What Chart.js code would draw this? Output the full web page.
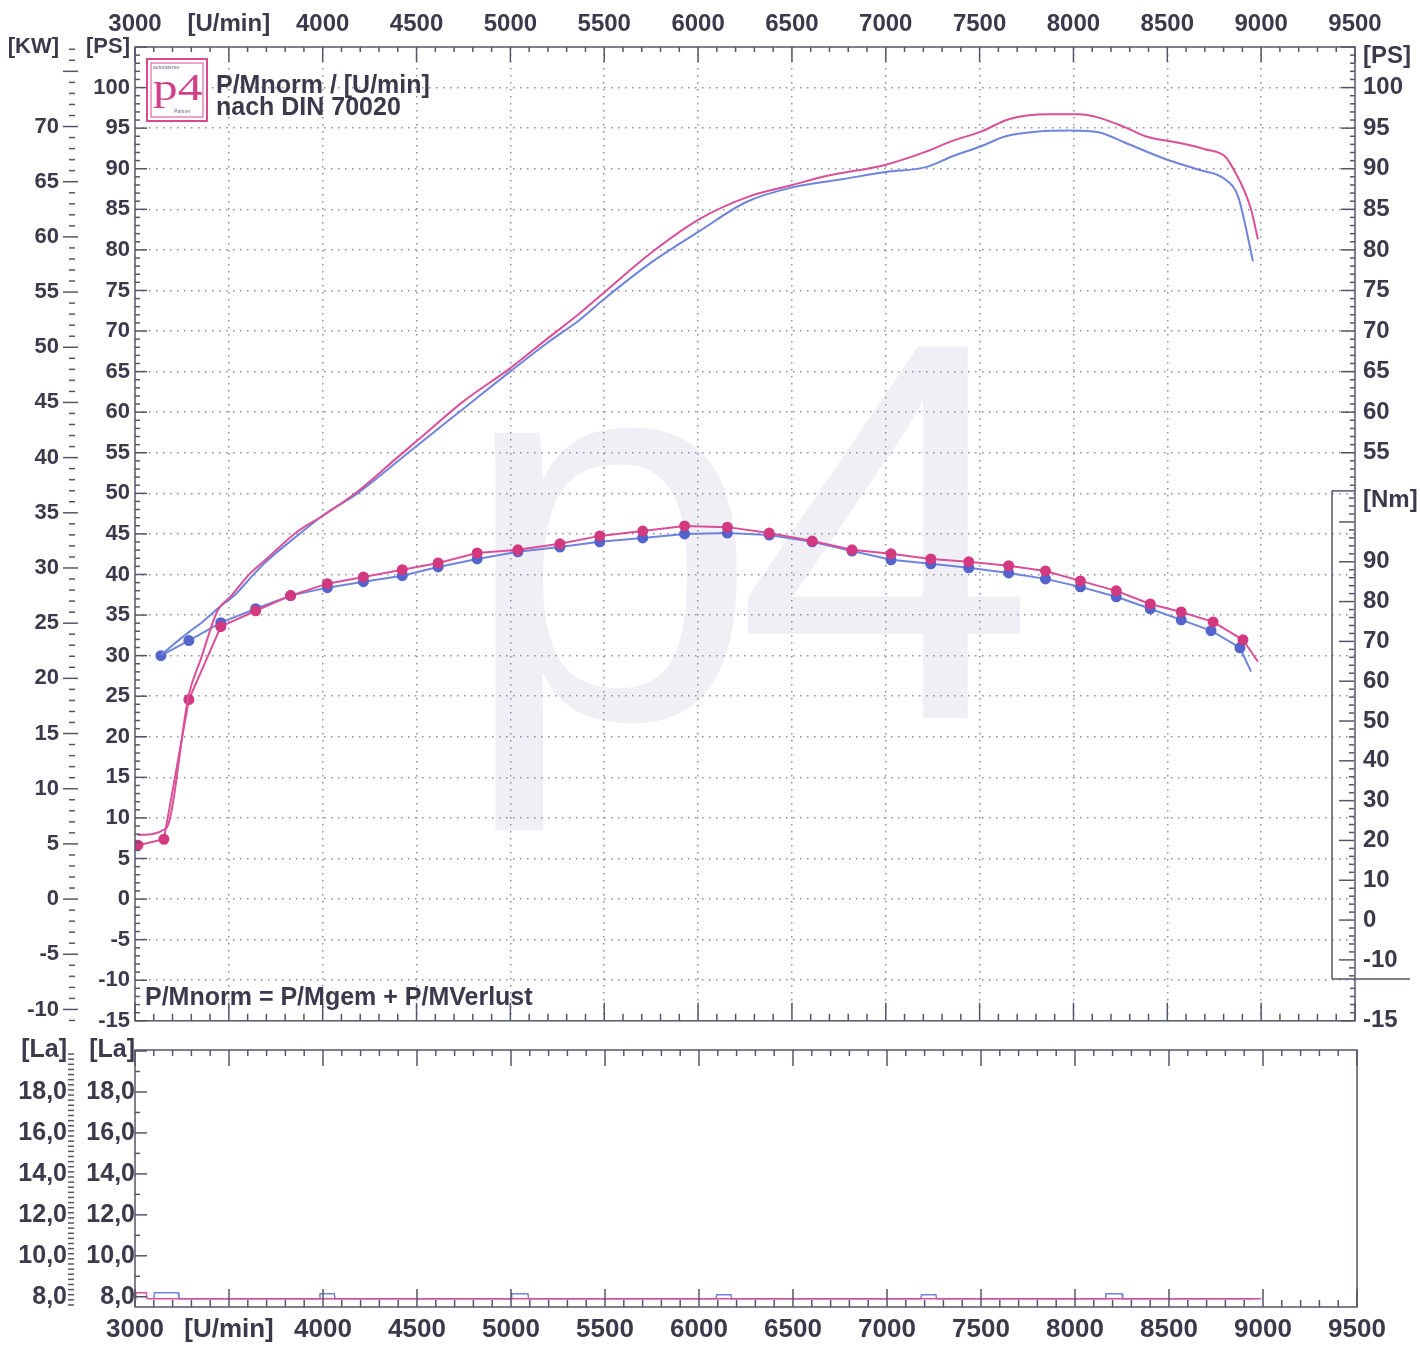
<!DOCTYPE html>
<html><head><meta charset="utf-8">
<script src="https://cdn.jsdelivr.net/npm/chart.js@4.4.1/dist/chart.umd.min.js"></script>
<style>
html,body{margin:0;padding:0;background:#fff;}
#wrap{position:relative;width:1420px;height:1347px;overflow:hidden;background:#fff;}
canvas{position:absolute;left:0;}
#main{top:0;}
#lam{top:1030px;}
</style></head><body>
<div id="wrap">
<canvas id="main" width="1420" height="1045"></canvas>
<canvas id="lam" width="1420" height="317"></canvas>
</div>
<script>
// ---------- tick labels ----------
const rpmTicks = [3000,3500,4000,4500,5000,5500,6000,6500,7000,7500,8000,8500,9000,9500];
const rpmTickLabels = ['3000','[U/min]','4000','4500','5000','5500','6000','6500','7000','7500','8000','8500','9000','9500'];
const psTicks = [-15,-10,-5,0,5,10,15,20,25,30,35,40,45,50,55,60,65,70,75,80,85,90,95,100];
const kwTicks = [-10,-5,0,5,10,15,20,25,30,35,40,45,50,55,60,65,70];
const psRightTicks = [55,60,65,70,75,80,85,90,95,100];
const nmTicks = [-10,0,10,20,30,40,50,60,70,80,90];
const lambdaTicks = [8,10,12,14,16,18];
const lambdaTickLabels = ['8,0','10,0','12,0','14,0','16,0','18,0'];

// ---------- power [PS] ----------
const powerRpmPink = [3016,3165,3287,3351,3441,3510,3616,3685,3866,4004,4185,4397,4504,4748,4998,5194,5370,5492,5742,6007,6273,6502,6682,7001,7214,7352,7511,7655,7867,8027,8133,8276,8383,8558,8701,8808,8861,8914,8946,8983];
const powerPink    = [7.9,8.7,25.2,29.6,35.6,37.3,40.2,41.6,45.3,47.3,50.2,54.4,56.5,61.3,65.4,69.0,72.2,74.6,79.5,83.8,86.6,88.0,89.1,90.5,92.1,93.4,94.6,96.1,96.7,96.7,96.3,95.1,94.0,93.2,92.4,91.5,89.6,87.1,85.0,81.3];
const powerRpmBlue = [3138,3287,3351,3441,3537,3616,3685,3866,4004,4185,4397,4504,4748,4998,5194,5370,5492,5742,6007,6257,6502,6767,7001,7214,7352,7511,7639,7814,7989,8133,8276,8489,8664,8808,8877,8914,8956];
const powerBlue    = [30.1,32.9,34.0,35.8,37.6,39.6,41.3,44.8,47.3,50.0,53.9,55.9,60.4,65.0,68.5,71.4,73.8,78.3,82.3,85.9,87.7,88.7,89.6,90.2,91.5,92.8,94.0,94.6,94.7,94.5,93.2,91.2,89.9,88.7,86.6,83.2,78.6];

// ---------- torque [Nm] ----------
const torqueRpmPink = [3016,3154,3287,3457,3643,3829,4025,4217,4424,4615,4823,5040,5264,5476,5705,5928,6156,6379,6608,6820,7028,7240,7442,7655,7851,8037,8228,8409,8574,8744,8903,8983];
const torquePink    = [18.8,20.3,55.4,73.7,77.7,81.5,84.5,86.2,88.0,89.7,92.2,93.0,94.5,96.5,97.7,99.0,98.7,97.2,95.2,93.0,92.0,90.7,90.0,89.0,87.7,85.2,82.7,79.4,77.4,74.9,70.4,64.9];
const torqueRpmBlue = [3138,3287,3457,3643,3829,4025,4217,4424,4615,4823,5040,5264,5476,5705,5928,6156,6379,6608,6820,7028,7240,7442,7655,7851,8037,8228,8409,8574,8733,8887,8946];
const torqueBlue    = [66.4,70.2,74.7,78.2,81.5,83.5,85.0,86.5,88.7,90.7,92.5,93.7,95.0,96.0,97.0,97.2,96.7,95.0,92.7,90.5,89.5,88.5,87.2,85.7,83.7,81.2,78.2,75.4,72.7,68.4,62.4];

// ---------- lambda [La] ----------
const lambdaRpmPink = [3000,3004,3060,3064,8990];
const lambdaPink    = [7.9,8.2,8.2,7.9,7.9];
const lambdaRpmBlue = [3100,3104,3230,3234,3980,3984,4060,4064,5000,5004,5090,5094,6090,6094,6170,6174,7180,7184,7260,7264,8160,8164,8250,8254,8950];
const lambdaBlue    = [7.9,8.2,8.2,7.9,7.9,8.15,8.15,7.9,7.9,8.15,8.15,7.9,7.9,8.1,8.1,7.9,7.9,8.1,8.1,7.9,7.9,8.15,8.15,7.9,7.9];

// ---------- scale ranges ----------
const PS_MIN = -15, PS_MAX = 105, KW_PER_PS = 1/1.36;
const NM_MIN = -25.3, NM_MAX = 219.3;
const LA_MIN = 7.5, LA_MAX = 20.05;

const INK = '#3a3a4c', FRAME = '#55556a', GRID = '#8c8ca2';
const PINK = '#da4f98', PINK_PT = '#d2397f', BLUE = '#6f84dc', BLUE_PT = '#5365cc';
const FONT = "'Liberation Sans', Arial, Helvetica, sans-serif";
Chart.defaults.font.family = FONT;
Chart.defaults.color = INK;

const pts = (xs, ys) => xs.map((x, i) => ({x, y: ys[i]}));
const psToNm = p => NM_MIN + (p - PS_MIN) / (PS_MAX - PS_MIN) * (NM_MAX - NM_MIN);
const rightTicks = [
  {value: psToNm(103.8), label: '[PS]'},
  ...psRightTicks.map(p => ({value: psToNm(p), label: String(p)})),
  {value: 105.5, label: '[Nm]'},
  ...nmTicks.map(n => ({value: n, label: String(n)})),
  {value: psToNm(-15), label: '-15'}
];
const psAll = [...psTicks.map(v => ({value: v, label: String(v)})), {value: PS_MAX, label: '[PS]'}];
const kwAll = [...kwTicks.map(v => ({value: v, label: String(v)})), {value: PS_MAX * KW_PER_PS, label: '[KW]'}];
const laAll = [...lambdaTicks.map((v, i) => ({value: v, label: lambdaTickLabels[i]})), {value: LA_MAX, label: '[La]'}];
const xAll = rpmTicks.map((v, i) => ({value: v, label: rpmTickLabels[i]}));

function setTicks(list) {
  return {
    afterBuildTicks: s => { s.ticks = list.map(t => ({value: t.value})); },
    cb: (v, i) => list[i] ? list[i].label : ''
  };
}
function hline(ctx, x1, x2, y) { ctx.beginPath(); ctx.moveTo(x1, y); ctx.lineTo(x2, y); ctx.stroke(); }
function vline(ctx, x, y1, y2) { ctx.beginPath(); ctx.moveTo(x, y1); ctx.lineTo(x, y2); ctx.stroke(); }

const T_X = setTicks(xAll), T_PS = setTicks(psAll), T_KW = setTicks(kwAll), T_R = setTicks(rightTicks), T_LA = setTicks(laAll);

const mainDecor = {
  id: 'mainDecor',
  beforeDraw(chart) {
    const {ctx, chartArea: a} = chart;
    const sx = chart.scales.x, ps = chart.scales.yPS;
    ctx.save();
    ctx.beginPath(); ctx.rect(a.left, a.top, a.right - a.left, a.bottom - a.top); ctx.clip();
    ctx.fillStyle = 'rgba(190,190,212,0.24)';
    ctx.font = `540px ${FONT}`;
    ctx.textBaseline = 'alphabetic';
    const base = ps.getPixelForValue(22.3);
    ctx.fillText('p', sx.getPixelForValue(4727), base);
    ctx.fillText('4', sx.getPixelForValue(6199), base);
    ctx.restore();
  },
  afterDraw(chart) {
    const {ctx, chartArea: a} = chart;
    const sx = chart.scales.x, ps = chart.scales.yPS, kw = chart.scales.yKW, nm = chart.scales.yNm;
    ctx.save();
    ctx.strokeStyle = FRAME; ctx.lineWidth = 1.5;
    ctx.strokeRect(a.left, a.top, a.right - a.left, a.bottom - a.top);
    for (let v = 3000; v <= 9500; v += 100) {
      const px = sx.getPixelForValue(v), major = v % 500 === 0;
      vline(ctx, px, a.top, a.top + (major ? 15 : 5));
      vline(ctx, px, a.bottom, a.bottom - (major ? 18 : 7));
    }
    for (let v = -15; v <= 105; v++) {
      hline(ctx, a.left, a.left + (v % 5 === 0 ? 12 : 5), ps.getPixelForValue(v));
    }
    for (let v = -11; v <= 77; v++) {
      const y = kw.getPixelForValue(v);
      if (v % 5 === 0) hline(ctx, kw.right - 7, kw.right + 8, y); else hline(ctx, kw.right - 1, kw.right + 5, y);
    }
    const bTop = nm.getPixelForValue(107.8), bBot = nm.getPixelForValue(-14.8), bLeft = a.right - 23;
    hline(ctx, bLeft, a.right, bTop);
    vline(ctx, bLeft, bTop, bBot);
    hline(ctx, bLeft, a.right + 55, bBot);
    for (let v = -14; v <= 106; v += 2) {
      const y = nm.getPixelForValue(v);
      hline(ctx, a.right - (v % 10 === 0 ? 16 : 6), a.right - 1, y);
    }
    for (let v = -15; v <= 105; v++) {
      const y = ps.getPixelForValue(v);
      if (y < bTop - 2 || y > bBot + 3) hline(ctx, a.right - (v % 5 === 0 ? 14 : 5), a.right, y);
    }
    const lx = a.left + 12, ly = a.top + 12;
    ctx.fillStyle = '#fff'; ctx.fillRect(lx, ly, 60, 62);
    ctx.strokeStyle = '#d64a90'; ctx.lineWidth = 2; ctx.strokeRect(lx, ly, 60, 62);
    ctx.lineWidth = 1; ctx.strokeRect(lx + 4, ly + 4, 52, 54);
    ctx.fillStyle = '#d23f88';
    ctx.save(); ctx.translate(lx + 6, ly + 41); ctx.scale(1.3, 1);
    ctx.font = `38px 'Liberation Serif', 'DejaVu Serif', serif`;
    ctx.textBaseline = 'alphabetic'; ctx.fillText('p4', 0, 0);
    ctx.restore();
    ctx.fillStyle = '#6a6a80'; ctx.font = `5px ${FONT}`;
    ctx.fillText('autorisierter', lx + 6, ly + 10);
    ctx.fillText('Partner', lx + 27, ly + 54);
    ctx.fillStyle = INK; ctx.font = `bold 25px ${FONT}`; ctx.textBaseline = 'alphabetic';
    ctx.fillText('P/Mnorm / [U/min]', a.left + 81, a.top + 46);
    ctx.fillText('nach DIN 70020', a.left + 81, a.top + 68);
    ctx.fillText('P/Mnorm = P/Mgem + P/MVerlust', a.left + 10, a.bottom - 16);
    ctx.restore();
  }
};

const lamDecor = {
  id: 'lamDecor',
  afterDraw(chart) {
    const {ctx, chartArea: a} = chart;
    const sx = chart.scales.x, la = chart.scales.yLa, la2 = chart.scales.yLa2;
    ctx.save();
    ctx.strokeStyle = FRAME; ctx.lineWidth = 1.5;
    ctx.strokeRect(a.left, a.top, a.right - a.left, a.bottom - a.top);
    for (let v = 3000; v <= 9500; v += 100) {
      const px = sx.getPixelForValue(v), major = v % 500 === 0;
      vline(ctx, px, a.top, a.top + (major ? 16 : 6));
      vline(ctx, px, a.bottom, a.bottom - (major ? 18 : 7));
    }
    for (let v = 8; v <= 20; v += 1) {
      const y = la.getPixelForValue(v);
      hline(ctx, a.left, a.left + (v % 2 === 0 ? 12 : 5), y);
    }
    for (let v = 7.6; v <= 20; v += 0.25) {
      const y = la2.getPixelForValue(v);
      const major = Math.abs(v - Math.round(v)) < 0.01 && Math.round(v) % 2 === 0;
      if (major) hline(ctx, la2.right - 7, la2.right + 5, y); else hline(ctx, la2.right - 2, la2.right + 4, y);
    }
    ctx.restore();
  }
};

const yFont = {size: 22, weight: 'bold'};

new Chart(document.getElementById('main'), {
  type: 'line',
  data: {
    datasets: [
      {label: 'P norm', data: pts(powerRpmPink, powerPink), yAxisID: 'yPS', borderColor: PINK, borderWidth: 2, pointRadius: 0, cubicInterpolationMode: 'monotone'},
      {label: 'P gem', data: pts(powerRpmBlue, powerBlue), yAxisID: 'yPS', borderColor: BLUE, borderWidth: 2, pointRadius: 0, cubicInterpolationMode: 'monotone'},
      {label: 'M norm', data: pts(torqueRpmPink, torquePink), yAxisID: 'yNm', borderColor: PINK, borderWidth: 2,
        pointRadius: c => c.dataIndex === torquePink.length - 1 ? 0 : 4.5, pointBackgroundColor: PINK_PT, pointBorderColor: PINK_PT, tension: 0},
      {label: 'M gem', data: pts(torqueRpmBlue, torqueBlue), yAxisID: 'yNm', borderColor: BLUE, borderWidth: 2,
        pointRadius: c => c.dataIndex === torqueBlue.length - 1 ? 0 : 4.5, pointBackgroundColor: BLUE_PT, pointBorderColor: BLUE_PT, tension: 0}
    ]
  },
  options: {
    responsive: false, animation: false, devicePixelRatio: 1,
    layout: {padding: {left: 0, right: 0, top: 0, bottom: 22}},
    plugins: {legend: {display: false}, tooltip: {enabled: false}},
    scales: {
      x: {type: 'linear', position: 'top', min: 3000, max: 9500,
        afterBuildTicks: T_X.afterBuildTicks, afterFit: s => { s.height = 47; },
        ticks: {callback: T_X.cb, autoSkip: false, maxRotation: 0, padding: 8, font: {size: 24, weight: 'bold'}},
        grid: {drawTicks: false, lineWidth: 1.5, color: c => (c.tick && (c.tick.value === 3000 || c.tick.value === 9500)) ? 'rgba(0,0,0,0)' : GRID},
        border: {display: false, dash: [1.5, 5.5]}},
      yKW: {type: 'linear', position: 'left', weight: 2, min: PS_MIN * KW_PER_PS, max: PS_MAX * KW_PER_PS,
        afterBuildTicks: T_KW.afterBuildTicks, afterFit: s => { s.width = 70; },
        ticks: {callback: T_KW.cb, autoSkip: false, padding: 11, font: yFont},
        grid: {display: false, drawTicks: false}, border: {display: false}},
      yPS: {type: 'linear', position: 'left', weight: 1, min: PS_MIN, max: PS_MAX,
        afterBuildTicks: T_PS.afterBuildTicks, afterFit: s => { s.width = 65; },
        ticks: {callback: T_PS.cb, autoSkip: false, padding: 5, font: yFont},
        grid: {drawTicks: false, lineWidth: 1.5, color: c => (c.tick && (c.tick.value < -12 || c.tick.value > 102)) ? 'rgba(0,0,0,0)' : GRID},
        border: {display: false, dash: [1.5, 5.5]}},
      yNm: {type: 'linear', position: 'right', min: NM_MIN, max: NM_MAX,
        afterBuildTicks: T_R.afterBuildTicks, afterFit: s => { s.width = 65; },
        ticks: {callback: T_R.cb, autoSkip: false, padding: 8, font: {size: 24, weight: 'bold'}},
        grid: {display: false, drawTicks: false}, border: {display: false}}
    }
  },
  plugins: [mainDecor]
});

new Chart(document.getElementById('lam'), {
  type: 'line',
  data: {
    datasets: [
      {label: 'La norm', data: pts(lambdaRpmPink, lambdaPink), yAxisID: 'yLa', borderColor: PINK, borderWidth: 1.5, pointRadius: 0, tension: 0},
      {label: 'La gem', data: pts(lambdaRpmBlue, lambdaBlue), yAxisID: 'yLa', borderColor: BLUE, borderWidth: 1.5, pointRadius: 0, tension: 0}
    ]
  },
  options: {
    responsive: false, animation: false, devicePixelRatio: 1,
    layout: {padding: {left: 0, right: 63, top: 20, bottom: 0}},
    plugins: {legend: {display: false}, tooltip: {enabled: false}},
    scales: {
      x: {type: 'linear', position: 'bottom', min: 3000, max: 9500,
        afterBuildTicks: T_X.afterBuildTicks, afterFit: s => { s.height = 40; },
        ticks: {callback: T_X.cb, autoSkip: false, maxRotation: 0, padding: 7, font: {size: 26, weight: 'bold'}},
        grid: {display: false, drawTicks: false}, border: {display: false}},
      yLa2: {type: 'linear', position: 'left', weight: 2, min: LA_MIN, max: LA_MAX,
        afterBuildTicks: T_LA.afterBuildTicks, afterFit: s => { s.width = 70; },
        ticks: {callback: T_LA.cb, autoSkip: false, padding: 3, font: {size: 25, weight: 'bold'}},
        grid: {display: false, drawTicks: false}, border: {display: false}},
      yLa: {type: 'linear', position: 'left', weight: 1, min: LA_MIN, max: LA_MAX,
        afterBuildTicks: T_LA.afterBuildTicks, afterFit: s => { s.width = 65; },
        ticks: {callback: T_LA.cb, autoSkip: false, padding: 0, font: {size: 25, weight: 'bold'}},
        grid: {display: false, drawTicks: false}, border: {display: false}}
    }
  },
  plugins: [lamDecor]
});
</script>
</body></html>
